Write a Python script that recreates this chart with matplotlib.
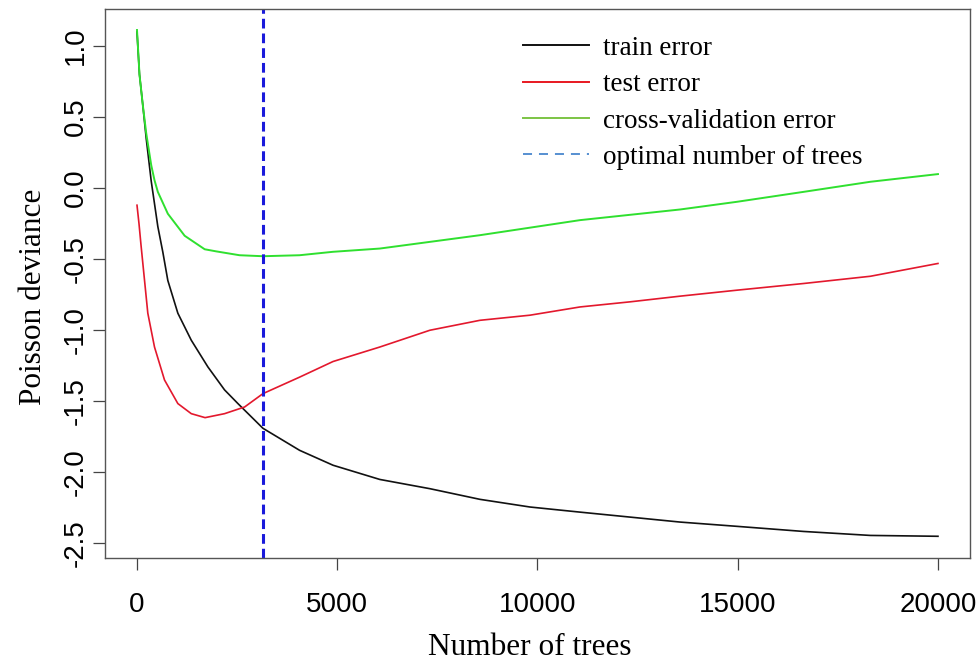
import matplotlib
matplotlib.use("Agg")
import matplotlib.pyplot as plt
from matplotlib.lines import Line2D

# ---- data ----
train_x = [0, 62, 145, 230, 355, 520, 645, 770, 1020, 1355, 1770, 2187, 2520, 3145,
           4060, 4895, 6063, 7313, 8563, 9813, 11063, 12313, 13563, 14980, 16645, 18313, 20000]
train_y = [1.10, 0.80, 0.585, 0.35, 0.05, -0.27, -0.45, -0.65, -0.88, -1.07, -1.258, -1.42,
           -1.516, -1.69, -1.845, -1.95, -2.05, -2.115, -2.19, -2.244, -2.28, -2.315, -2.35,
           -2.38, -2.416, -2.444, -2.45]

test_x = [0, 50, 100, 270, 437, 687, 1020, 1355, 1700, 2187, 2687, 3145, 4060, 4895, 6063,
          7313, 8563, 9813, 11063, 12313, 13563, 14980, 16645, 18313, 20000]
test_y = [-0.12, -0.25, -0.40, -0.88, -1.118, -1.35, -1.516, -1.587, -1.615, -1.587, -1.54,
          -1.446, -1.33, -1.22, -1.118, -1.0, -0.93, -0.894, -0.836, -0.80, -0.76, -0.718,
          -0.671, -0.62, -0.53]

cv_x = [0, 62, 145, 230, 355, 437, 520, 770, 1190, 1690, 1980, 2560, 3145, 4060, 4890, 6063,
        8563, 11063, 13563, 14980, 16645, 18313, 20000]
cv_y = [1.113, 0.80, 0.585, 0.387, 0.162, 0.056, -0.026, -0.18, -0.335, -0.43, -0.445, -0.472,
        -0.479, -0.472, -0.448, -0.425, -0.331, -0.225, -0.15, -0.096, -0.026, 0.045, 0.099]

optimal_trees = 3145

x_ticks = [0, 5000, 10000, 15000, 20000]
y_ticks = [1.0, 0.5, 0.0, -0.5, -1.0, -1.5, -2.0, -2.5]
y_tick_labels = ["1.0", "0.5", "0.0", "-0.5", "-1.0", "-1.5", "-2.0", "-2.5"]

legend_labels = ["train error", "test error", "cross-validation error", "optimal number of trees"]

# ---- figure ----
plt.rcParams['lines.scale_dashes'] = False
fig = plt.figure(figsize=(9.8, 6.64), dpi=100)
ax = fig.add_axes([0.1071, 0.1596, 0.8827, 0.8273])

ax.plot(train_x, train_y, color="#111111", lw=1.2)
ax.plot(test_x, test_y, color="#e3182d", lw=1.2)
ax.plot(cv_x, cv_y, color="#2fe02f", lw=1.4)
ax.axvline(optimal_trees, color="#1a1adb", lw=2.2, dashes=(7, 3.6))

ax.set_xlim(-800, 20800)
ax.set_ylim(-2.603, 1.263)

tick_font = ['Liberation Sans', 'DejaVu Sans']
serif_font = ['Liberation Serif', 'DejaVu Serif']

ax.set_xticks(x_ticks)
ax.set_xticklabels([str(t) for t in x_ticks], family=tick_font, fontsize=20)
ax.set_yticks(y_ticks)
ax.set_yticklabels(y_tick_labels, family=tick_font, fontsize=20, rotation=90, va='center')
ax.tick_params(axis='both', direction='out', length=8.6, width=0.9, color="#444444")
ax.tick_params(axis='x', pad=16)
ax.tick_params(axis='y', pad=3)

for s in ax.spines.values():
    s.set_color("#555555")
    s.set_linewidth(1.0)

ax.set_xlabel("Number of trees", family=serif_font, fontsize=22.5, labelpad=11)
ax.set_ylabel("Poisson deviance", family=serif_font, fontsize=22.5, labelpad=11)
ax.xaxis.label.set_x(0.491)
ax.yaxis.label.set_y(0.476)

handles = [
    Line2D([], [], color="#111111", lw=1.4),
    Line2D([], [], color="#e81820", lw=1.4),
    Line2D([], [], color="#7cc444", lw=1.4),
    Line2D([], [], color="#3a7dc9", lw=1.2, dashes=(6.5, 5)),
]
leg = ax.legend(handles, legend_labels, loc='upper left',
                bbox_to_anchor=(512 / 980, 1 - 25 / 664), bbox_transform=fig.transFigure,
                frameon=False, prop={'family': serif_font, 'size': 19.5},
                handlelength=2.44, handletextpad=0.52, labelspacing=0.42,
                borderaxespad=0)

fig.savefig("out.png", dpi=100)
